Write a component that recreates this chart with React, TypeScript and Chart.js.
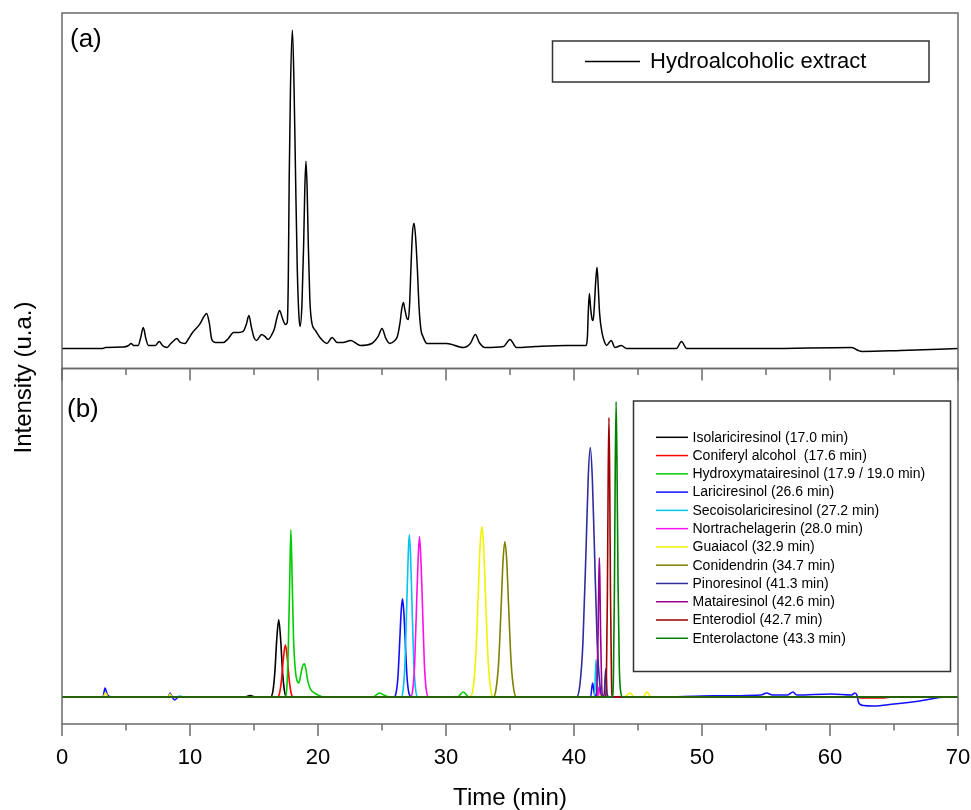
import React, { useEffect, useRef } from 'react';
import { Chart, registerables } from 'chart.js';

Chart.register(...registerables);

const FONT = "'Liberation Sans', Arial, Helvetica, sans-serif";

// ---- axis ticks ----
const xMajorTicks = [0, 10, 20, 30, 40, 50, 60, 70];
const xMinorTicks = [5, 15, 25, 35, 45, 55, 65];
const xTitle = 'Time (min)';
const yTitle = 'Intensity (u.a.)';
const panelLabels = ['(a)', '(b)'];

// ---- panel (a): hydroalcoholic extract, [time, intensity] ----
const extractLabel = 'Hydroalcoholic extract';
const extractTrace: [number, number][] = [
  [0, 0], [3.2, 0], [3.4, 1], [4.8, 1.5], [5.2, 3], [5.4, 5], [5.6, 3], [5.95, 3], [6.15, 11], [6.35, 21],
  [6.55, 10], [6.75, 3], [7.3, 3], [7.6, 7], [7.85, 3], [8.2, 1], [8.5, 5], [8.75, 8], [8.96, 10], [9.25, 6],
  [9.6, 5], [9.9, 10], [10.2, 16], [10.75, 24], [11.1, 32], [11.3, 35], [11.5, 26], [11.7, 9], [12.0, 6],
  [12.6, 6], [13.0, 10], [13.4, 16], [13.8, 16], [14.15, 17], [14.4, 24], [14.6, 33], [14.8, 21], [15.0, 11],
  [15.2, 8], [15.6, 14], [15.85, 12], [16.1, 9], [16.4, 14], [16.6, 20], [16.8, 31], [17.0, 38], [17.2, 31],
  [17.45, 24], [17.6, 26], [17.68, 70], [17.75, 170], [17.85, 260], [18.0, 318], [18.13, 260], [18.25, 170],
  [18.38, 80], [18.5, 35], [18.6, 22], [18.75, 45], [18.88, 105], [18.97, 160], [19.06, 187], [19.15, 160],
  [19.24, 105], [19.36, 50], [19.5, 27], [19.8, 18], [20.15, 11], [20.7, 5], [21.1, 11], [21.5, 6], [21.95, 6],
  [22.55, 8], [23.3, 3], [24.2, 5], [24.7, 12], [25.0, 20], [25.3, 10], [25.6, 5], [26.0, 8], [26.2, 12],
  [26.4, 25], [26.55, 40], [26.67, 46], [26.8, 38], [26.95, 30], [27.06, 29], [27.16, 45], [27.26, 80],
  [27.38, 115], [27.5, 125], [27.62, 112], [27.76, 80], [27.9, 40], [28.05, 18], [28.2, 12], [28.5, 5],
  [30.05, 5], [31.35, 1], [31.9, 5], [32.3, 14], [32.6, 6], [33.05, 1], [34.5, 2], [35.0, 9], [35.5, 1],
  [37.0, 2], [39.4, 3], [40.95, 3], [41.05, 12], [41.12, 38], [41.2, 55], [41.3, 40], [41.42, 29], [41.5, 28],
  [41.6, 45], [41.7, 68], [41.8, 81], [41.9, 60], [42.0, 35], [42.2, 15], [42.4, 6], [42.55, 3], [42.9, 8],
  [43.2, 1], [43.7, 3], [44.1, 0], [48.0, 0], [48.4, 7], [48.8, 0], [55.0, 0], [61.7, 1], [62.2, -2],
  [62.5, -3], [65.5, -2], [70, 0],
];

// ---- panel (b): standards, [time, intensity] ----
const standardLabels = [
  'Isolariciresinol (17.0 min)',
  'Coniferyl alcohol  (17.6 min)',
  'Hydroxymatairesinol (17.9 / 19.0 min)',
  'Lariciresinol (26.6 min)',
  'Secoisolariciresinol (27.2 min)',
  'Nortrachelagerin (28.0 min)',
  'Guaiacol (32.9 min)',
  'Conidendrin (34.7 min)',
  'Pinoresinol (41.3 min)',
  'Matairesinol (42.6 min)',
  'Enterodiol (42.7 min)',
  'Enterolactone (43.3 min)',
];
const standardColors = [
  '#000000', '#ff0000', '#00cc00', '#1010ff', '#00c4f0', '#ff10e8',
  '#f2f200', '#808000', '#2e2e9e', '#990099', '#a00000', '#008000',
];

const isolariciresinol: [number, number][] = [
  [0, 0], [14.3, 0], [14.7, 1.5], [15.1, 0], [16.3, 0], [16.48, 6], [16.63, 25], [16.78, 58], [16.93, 77],
  [17.08, 58], [17.23, 25], [17.38, 6], [17.55, 0], [70, 0],
];
const coniferylAlcohol: [number, number][] = [
  [0, 0], [16.85, 0], [17.0, 4], [17.15, 17], [17.3, 39], [17.45, 52], [17.6, 39], [17.75, 17], [17.9, 4],
  [18.05, 0], [62.2, 0], [62.4, -1], [64.0, -1], [65.0, 0], [70, 0],
];
const hydroxymatairesinol: [number, number][] = [
  [0, 0], [17.45, 0], [17.58, 12], [17.69, 55], [17.79, 115], [17.88, 167], [17.98, 118], [18.09, 58],
  [18.22, 28], [18.4, 15], [18.5, 14], [18.65, 22], [18.8, 31], [18.93, 33], [19.05, 28], [19.2, 16],
  [19.4, 8], [19.6, 5], [20.0, 2], [20.4, 0], [24.3, 0], [24.8, 4], [25.3, 1], [25.7, 0], [30.9, 0],
  [31.35, 5], [31.8, 0], [70, 0],
];
const lariciresinol: [number, number][] = [
  [0, 0], [3.2, 0], [3.36, 9], [3.55, 2], [3.9, 0], [8.3, 0], [8.44, 4], [8.6, 0], [8.8, -3], [9.1, 0],
  [25.95, 0], [26.1, 4], [26.25, 21], [26.4, 60], [26.5, 86], [26.6, 98], [26.7, 86], [26.8, 60], [26.95, 21],
  [27.1, 4], [27.3, 0], [41.3, 0], [41.45, 14], [41.6, 3], [41.8, 0], [47.0, 0], [50.0, 1], [54.6, 2],
  [55.05, 4], [55.5, 2], [56.7, 2], [57.1, 5], [57.4, 2], [60.1, 3], [61.7, 2], [61.95, 4], [62.1, 2],
  [62.25, -6], [62.6, -8.5], [63.4, -9], [65.0, -7], [67.0, -4], [69.1, 0], [70, 0],
];
const secoisolariciresinol: [number, number][] = [
  [0, 0], [9.0, 0], [9.2, 1], [9.5, 0], [26.5, 0], [26.65, 7], [26.8, 35], [26.95, 99], [27.05, 142],
  [27.13, 162], [27.23, 142], [27.33, 99], [27.48, 35], [27.63, 7], [27.8, 0], [41.6, 0], [41.72, 37],
  [41.82, 6], [41.95, 0], [70, 0],
];
const nortrachelagerin: [number, number][] = [
  [0, 0], [27.25, 0], [27.4, 7], [27.55, 33], [27.72, 100], [27.83, 140], [27.93, 160], [28.03, 140],
  [28.14, 100], [28.31, 33], [28.46, 7], [28.65, 0], [41.85, 0], [41.95, 10], [42.1, 0], [70, 0],
];
const guaiacol: [number, number][] = [
  [0, 0], [3.2, 0], [3.4, 4], [3.6, 0], [8.3, 0], [8.44, 3], [8.6, 0], [31.9, 0], [32.1, 7], [32.31, 37],
  [32.52, 103], [32.66, 150], [32.8, 170], [32.94, 150], [33.08, 103], [33.29, 37], [33.5, 7], [33.7, 0],
  [42.0, 0], [42.2, 3], [42.4, 0], [43.9, 0], [44.4, 4], [44.7, 0], [45.4, 0], [45.7, 5], [46.0, 0], [70, 0],
];
const conidendrin: [number, number][] = [
  [0, 0], [33.7, 0], [33.9, 7], [34.11, 34], [34.32, 94], [34.46, 137], [34.6, 155], [34.74, 137],
  [34.88, 94], [35.09, 34], [35.3, 7], [35.5, 0], [70, 0],
];
const pinoresinol: [number, number][] = [
  [0, 0], [40.2, 0], [40.45, 11], [40.7, 55], [40.95, 151], [41.11, 219], [41.27, 249], [41.43, 219],
  [41.59, 151], [41.81, 55], [42.03, 11], [42.2, 0], [42.35, 2], [42.48, 28], [42.6, 2], [42.75, 0], [70, 0],
];
const matairesinol: [number, number][] = [
  [0, 0], [41.7, 0], [41.8, 13], [41.88, 62], [41.93, 110], [41.98, 139], [42.03, 110], [42.08, 62],
  [42.16, 13], [42.26, 0], [70, 0],
];
const enterodiol: [number, number][] = [
  [0, 0], [42.45, 0], [42.53, 17], [42.61, 103], [42.67, 218], [42.73, 279], [42.79, 218], [42.85, 103],
  [42.93, 17], [43.01, 0], [70, 0],
];
const enterolactone: [number, number][] = [
  [0, 0], [43.0, 0], [43.08, 20], [43.16, 110], [43.22, 225], [43.29, 295], [43.36, 230], [43.44, 115],
  [43.54, 30], [43.66, 4], [43.8, 0], [70, 0],
];

const standardTraces = [
  isolariciresinol, coniferylAlcohol, hydroxymatairesinol, lariciresinol, secoisolariciresinol,
  nortrachelagerin, guaiacol, conidendrin, pinoresinol, matairesinol, enterodiol, enterolactone,
];

const toXY = (arr: [number, number][]) => arr.map(([x, y]) => ({ x, y }));

const decorPlugin = {
  id: 'decor',
  afterDatasetsDraw(chart: any) {
    const ctx = chart.ctx as CanvasRenderingContext2D;
    const xs = chart.scales.x;
    const ya = chart.scales.ya;
    const yb = chart.scales.yb;
    const left = chart.chartArea.left;
    const right = chart.chartArea.right;
    ctx.save();
    // frames
    ctx.strokeStyle = '#6a6a6a';
    ctx.lineWidth = 1.5;
    ctx.strokeRect(left, ya.top, right - left, ya.bottom - ya.top);
    ctx.strokeRect(left, yb.top, right - left, yb.bottom - yb.top);
    // ticks (pointing down) at panel boundary and at bottom axis
    [ya.bottom, yb.bottom].forEach((y0: number) => {
      xMajorTicks.forEach((v) => {
        const px = xs.getPixelForValue(v);
        ctx.beginPath();
        ctx.moveTo(px, y0);
        ctx.lineTo(px, y0 + 12);
        ctx.stroke();
      });
      xMinorTicks.forEach((v) => {
        const px = xs.getPixelForValue(v);
        ctx.beginPath();
        ctx.moveTo(px, y0);
        ctx.lineTo(px, y0 + 6.5);
        ctx.stroke();
      });
    });

    // panel labels
    ctx.fillStyle = '#000';
    ctx.textBaseline = 'middle';
    ctx.textAlign = 'left';
    ctx.font = `26px ${FONT}`;
    ctx.fillText(panelLabels[0], left + 8, ya.top + 27);
    ctx.fillText(panelLabels[1], left + 5, yb.top + 41);

    // y title
    ctx.save();
    ctx.translate(24, (ya.top + yb.bottom) / 2 + 9);
    ctx.rotate(-Math.PI / 2);
    ctx.textAlign = 'center';
    ctx.font = `24px ${FONT}`;
    ctx.fillText(yTitle, 0, 0);
    ctx.restore();

    // legend (a)
    const dsA = chart.data.datasets[0];
    ctx.strokeStyle = '#333';
    ctx.lineWidth = 1.5;
    ctx.strokeRect(552.5, 41, 376.5, 41);
    ctx.strokeStyle = dsA.borderColor;
    ctx.lineWidth = 1.3;
    ctx.beginPath();
    ctx.moveTo(585, 61.5);
    ctx.lineTo(640, 61.5);
    ctx.stroke();
    ctx.font = `22px ${FONT}`;
    ctx.fillStyle = '#000';
    ctx.fillText(dsA.label, 650, 62);

    // legend (b)
    ctx.strokeStyle = '#333';
    ctx.lineWidth = 1.5;
    ctx.strokeRect(633.5, 401, 317, 270.5);
    ctx.font = `14px ${FONT}`;
    for (let i = 1; i < chart.data.datasets.length; i++) {
      const ds = chart.data.datasets[i];
      const yy = 437.3 + (i - 1) * 18.27;
      ctx.strokeStyle = ds.borderColor;
      ctx.lineWidth = 1.5;
      ctx.beginPath();
      ctx.moveTo(656, yy);
      ctx.lineTo(688, yy);
      ctx.stroke();
      ctx.fillStyle = '#000';
      ctx.fillText(ds.label, 692.5, yy + 0.5);
    }
    ctx.restore();
  },
};

export default function App() {
  const canvasRef = useRef<HTMLCanvasElement | null>(null);

  useEffect(() => {
    document.body.style.margin = '0';
    const canvas = canvasRef.current;
    if (!canvas) return;

    const datasets: any[] = [
      {
        label: extractLabel,
        data: toXY(extractTrace),
        yAxisID: 'ya',
        borderColor: '#000000',
        borderWidth: 1.5,
        pointRadius: 0,
        cubicInterpolationMode: 'monotone',
        fill: false,
        order: 20,
      },
      ...standardTraces.map((tr, i) => ({
        label: standardLabels[i],
        data: toXY(tr),
        yAxisID: 'yb',
        borderColor: standardColors[i],
        borderWidth: 1.6,
        pointRadius: 0,
        cubicInterpolationMode: 'monotone',
        fill: false,
        order: 12 - i,
      })),
    ];

    const chart = new Chart(canvas, {
      type: 'line',
      data: { datasets },
      options: {
        animation: false,
        responsive: false,
        devicePixelRatio: 1,
        layout: { padding: { left: 62, right: 13, top: 13, bottom: 0 } },
        plugins: {
          legend: { display: false },
          tooltip: { enabled: false },
          title: { display: false },
        },
        scales: {
          x: {
            type: 'linear',
            min: 0,
            max: 70,
            grid: { display: false, drawTicks: false },
            border: { display: false },
            ticks: {
              stepSize: 10,
              padding: 21,
              color: '#000',
              font: { family: FONT, size: 22, lineHeight: 1.2 },
              maxRotation: 0,
            },
            title: {
              display: true,
              text: xTitle,
              color: '#000',
              font: { family: FONT, size: 24, lineHeight: 1 },
              padding: { top: 16, bottom: 0 },
            },
            afterFit: (scale: any) => {
              scale.height = 86;
              scale.paddingLeft = 0;
              scale.paddingRight = 0;
            },
          },
          yb: {
            type: 'linear',
            position: 'left',
            stack: 'panels',
            stackWeight: 1,
            min: -27,
            max: 328,
            display: false,
          },
          ya: {
            type: 'linear',
            position: 'left',
            stack: 'panels',
            stackWeight: 1,
            min: -20,
            max: 335,
            display: false,
          },
        } as any,
      },
      plugins: [decorPlugin],
    } as any);

    return () => chart.destroy();
  }, []);

  return (
    <div style={{ width: 971, height: 810, background: '#fff' }}>
      <canvas ref={canvasRef} width={971} height={810} style={{ display: 'block', width: 971, height: 810 }} />
    </div>
  );
}
